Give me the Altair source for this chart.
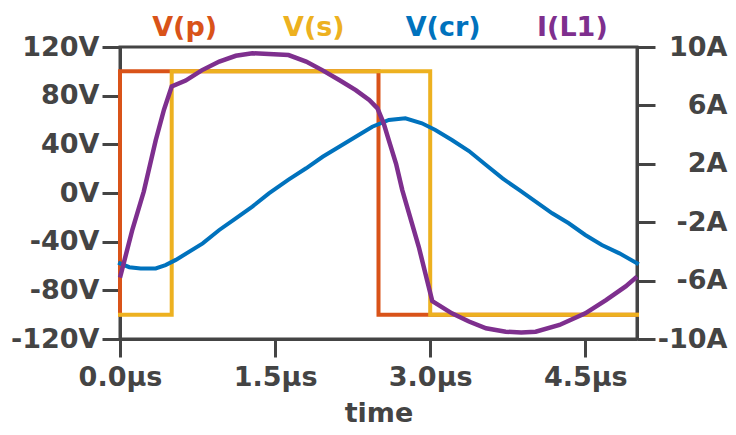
import altair as alt
import pandas as pd

series_names = ["V(p)", "V(s)", "V(cr)", "I(L1)"]
series_colors = ["#D95319", "#EDB120", "#0072BD", "#7E2F8E"]

# V(p) square wave (V)
t_p = [0.0, 0.0, 2.5, 2.5, 5.0]
v_p = [-100, 100, 100, -100, -100]

# V(s) square wave (V)
t_s = [0.0, 0.5, 0.5, 3.0, 3.0, 5.0]
v_s = [-100, -100, 100, 100, -100, -100]

# V(cr) resonant capacitor voltage (V)
t_cr = [0.0, 0.09, 0.2, 0.345, 0.44, 0.54, 0.8, 0.96, 1.12, 1.28, 1.44, 1.63, 1.8,
        1.96, 2.12, 2.28, 2.44, 2.6, 2.76, 2.92, 3.05, 3.21, 3.375, 3.54, 3.7,
        3.86, 4.02, 4.18, 4.34, 4.5, 4.66, 4.83, 5.0]
v_cr = [-57.8, -61, -62, -62, -59.2, -55, -41.4, -30.4, -20.8, -11.2, -0.3, 11,
        20.3, 29.8, 38, 46.3, 54.5, 60, 61.4, 57.3, 51.8, 43.6, 34.5, 23, 12,
        2.5, -7.1, -16.7, -24.9, -34.5, -42.7, -49.6, -57.8]

# I(L1) inductor current (A)
t_l1 = [0.0, 0.12, 0.23, 0.345, 0.425, 0.5, 0.635, 0.79, 0.96, 1.12, 1.28, 1.44,
        1.63, 1.8, 1.96, 2.12, 2.28, 2.41, 2.49, 2.55, 2.6, 2.67, 2.73, 2.89,
        2.96, 3.02, 3.21, 3.375, 3.54, 3.73, 3.88, 4.02, 4.25, 4.5, 4.7, 4.89, 5.0]
i_l1 = [-5.8, -2.5, 0.1, 3.6, 5.7, 7.3, 7.7, 8.4, 9.0, 9.4, 9.57, 9.52, 9.45,
        9.0, 8.4, 7.74, 7.05, 6.37, 5.8, 4.77, 3.6, 2.0, 0.2, -3.7, -5.7, -7.4,
        -8.24, -8.8, -9.27, -9.5, -9.55, -9.5, -9.04, -8.24, -7.33, -6.4, -5.73]

x_ticks = [0, 1.5, 3.0, 4.5]
v_ticks = [-120, -80, -40, 0, 40, 80, 120]
i_ticks = [-10, -6, -2, 2, 6, 10]

rows = []
for name, ts, vs in [("V(p)", t_p, v_p), ("V(s)", t_s, v_s), ("V(cr)", t_cr, v_cr)]:
    for k, (t, v) in enumerate(zip(ts, vs)):
        rows.append({"series": name, "t": t, "v": v, "idx": k})
volt = pd.DataFrame(rows)
cur = pd.DataFrame({"series": "I(L1)", "t": t_l1, "i": i_l1, "idx": list(range(len(t_l1)))})
leg = pd.DataFrame({"series": series_names})

GRAY = "#444444"
FONT = "DejaVu Sans"
FS = 27

color = alt.Color("series:N", scale=alt.Scale(domain=series_names, range=series_colors), legend=None)

x_enc = alt.X(
    "t:Q",
    scale=alt.Scale(domain=[0, 5], nice=False, zero=False),
    axis=alt.Axis(values=x_ticks, labelExpr="format(datum.value, '.1f') + 'µs'",
                  title="time", labelFlush=False, labelOverlap=False,
                  labelPadding=7, titlePadding=10),
)
y_v = alt.Y(
    "v:Q",
    scale=alt.Scale(domain=[-120, 120], nice=False, zero=False),
    axis=alt.Axis(values=v_ticks, labelExpr="datum.value + 'V'", title="",
                  labelOverlap=False, labelPadding=3),
)


def vline(name):
    return (
        alt.Chart(volt)
        .transform_filter(alt.datum.series == name)
        .mark_line(strokeWidth=4, strokeJoin="miter", strokeCap="square")
        .encode(x=x_enc, y=y_v, color=color, order="idx:Q")
    )


volt_layer = alt.layer(vline("V(p)"), vline("V(s)"), vline("V(cr)"))

cur_layer = (
    alt.Chart(cur)
    .mark_line(strokeWidth=4.5)
    .encode(
        x=alt.X("t:Q", scale=alt.Scale(domain=[0, 5], nice=False, zero=False), axis=None),
        y=alt.Y(
            "i:Q",
            scale=alt.Scale(domain=[-10, 10], nice=False, zero=False),
            axis=alt.Axis(orient="right", values=i_ticks, labelExpr="datum.value + 'A'",
                          title="", labelAlign="right", labelPadding=72, labelOverlap=False),
        ),
        color=color,
        order="idx:Q",
    )
)

text_layer = (
    alt.Chart(leg)
    .mark_text(font=FONT, fontWeight="bold", fontSize=FS, baseline="alphabetic")
    .encode(
        x=alt.X("series:N", scale=alt.Scale(type="point", domain=series_names, padding=0.5), axis=None),
        y=alt.value(-11),
        text="series:N",
        color=color,
    )
)

chart = (
    alt.layer(volt_layer, cur_layer, text_layer)
    .resolve_scale(x="independent", y="independent")
    .properties(
        width=517,
        height=292,
        autosize=alt.AutoSizeParams(type="none"),
        padding={"left": 112, "top": 39, "right": 91, "bottom": 88},
    )
    .configure_view(stroke=GRAY, strokeWidth=3)
    .configure_axis(
        grid=False,
        domainColor=GRAY, domainWidth=3,
        tickColor=GRAY, tickWidth=3, tickSize=18,
        labelFont=FONT, labelFontWeight="bold", labelFontSize=FS, labelColor=GRAY,
        titleFont=FONT, titleFontWeight="bold", titleFontSize=FS, titleColor=GRAY,
    )
)

chart.save("out.html", embed_options={"renderer": "svg", "actions": False})
